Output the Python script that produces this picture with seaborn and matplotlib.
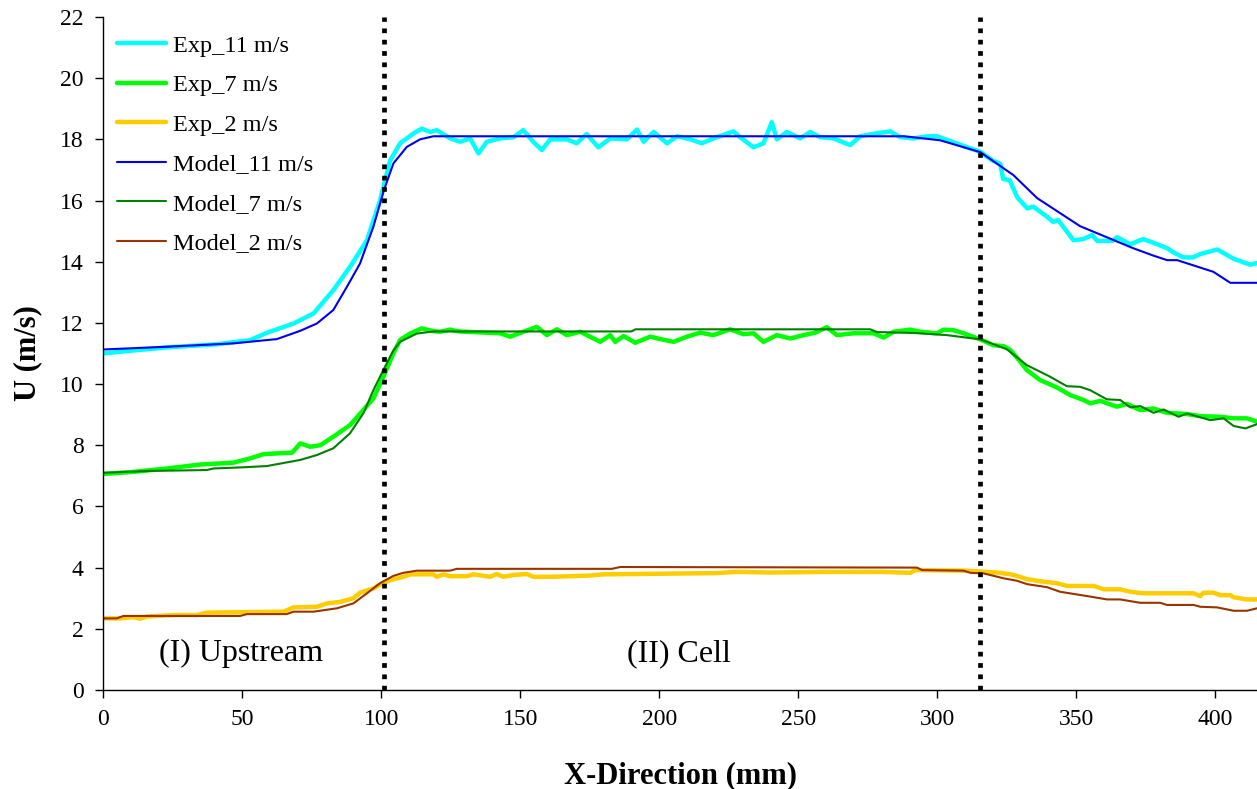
import numpy as np
import pandas as pd
import matplotlib
matplotlib.use("Agg")
import matplotlib.pyplot as plt
import seaborn as sns

# ---- data (x in mm, U in m/s) ----
exp11_x = [0, 11, 23, 41, 53, 59, 68.5, 75.7, 82.8, 88.8, 94.9, 99.6, 103.2, 106.8, 111.6, 114.6,
           117.6, 120, 124.8, 128.4, 132, 135, 138, 142.8, 147.6, 151.1, 154.7, 157.8, 160.8,
           166.8, 170.3, 173.9, 178.1, 182.4, 188.4, 192, 194.4, 198, 202.8, 206.4, 211.2,
           215.3, 219.5, 226.7, 229.1, 233.9, 237.5, 240.5, 242.3, 245.9, 250.7, 254.3, 257.9,
           262.7, 268.7, 272.3, 278.3, 283.1, 286.7, 291.4, 296.4, 300, 303.6, 309, 315.5,
           320, 322.7, 323.7, 326, 328.8, 332.4, 334.5, 339.5, 341.7, 343.5, 349, 352.5, 355.7,
           357.5, 363, 364.7, 369.4, 374, 377.7, 382.7, 385, 388.5, 392, 394.6, 400.7, 406.5,
           412.6, 415]
exp11_y = [11.0, 11.1, 11.2, 11.3, 11.44, 11.68, 11.98, 12.31, 13.07, 13.83, 14.7, 16.0, 17.3,
           17.87, 18.19, 18.35, 18.24, 18.3, 18.03, 17.92, 18.03, 17.54, 17.92, 18.03, 18.07,
           18.3, 17.92, 17.65, 18.0, 18.0, 17.87, 18.17, 17.74, 18.03, 18.0, 18.32, 17.92,
           18.24, 17.87, 18.1, 18.0, 17.87, 18.03, 18.26, 18.07, 17.74, 17.87, 18.56, 18.0,
           18.24, 18.03, 18.24, 18.07, 18.03, 17.81, 18.1, 18.2, 18.26, 18.07, 18.03, 18.1,
           18.1, 17.98, 17.8, 17.59, 17.3, 17.2, 16.7, 16.67, 16.1, 15.74, 15.8, 15.47, 15.3,
           15.36, 14.7, 14.74, 14.87, 14.68, 14.68, 14.8, 14.57, 14.74, 14.62, 14.44, 14.3,
           14.14, 14.14, 14.25, 14.4, 14.1, 13.9, 13.96]

model11_x = [0, 22.9, 46.9, 62.5, 70.9, 76.9, 82.8, 87.7, 92.4, 97.2, 100.8, 104.4, 109.2,
             114, 118.8, 288, 301, 315.5, 327.4, 335.9, 351.4, 370.5, 377.7, 382.7, 386.3,
             399.3, 405.4, 415]
model11_y = [11.13, 11.22, 11.33, 11.47, 11.74, 11.98, 12.42, 13.18, 13.94, 15.14, 16.28,
             17.21, 17.75, 18.0, 18.1, 18.1, 17.97, 17.58, 16.83, 16.08, 15.16, 14.44, 14.2,
             14.05, 14.05, 13.67, 13.31, 13.31]

exp7_x = [0, 10.8, 22.9, 34.9, 46.9, 52.9, 57.7, 68, 70.9, 74.5, 78.1, 82.8, 88.8, 93.6,
          97.2, 100.8, 104.4, 106.8, 110.4, 114.6, 118.8, 121.2, 124.8, 128, 142.8, 146.4,
          151.2, 156, 159.6, 163.2, 166.8, 171.6, 178.8, 182.4, 184.2, 187.2, 191.4, 196.8,
          200.4, 205.2, 210, 214.7, 219.5, 225.5, 230.3, 233.9, 237.5, 242.3, 247.1, 251.9,
          256.1, 260.3, 263.9, 269.9, 277.1, 280.7, 284.3, 290.3, 293.9, 299.9, 302.3, 305.9,
          309.5, 315.5, 320.2, 323.9, 326.3, 329.9, 332.2, 337, 343, 347.8, 352.6, 355, 358.6,
          364.6, 368.2, 373, 377.8, 382.6, 389.8, 394.6, 401.8, 406.6, 411.4, 415]
exp7_y = [7.06, 7.13, 7.24, 7.37, 7.43, 7.57, 7.71, 7.76, 8.06, 7.95, 8.0, 8.28, 8.66, 9.15,
          9.53, 10.24, 11.0, 11.44, 11.65, 11.82, 11.73, 11.71, 11.78, 11.72, 11.66, 11.55,
          11.71, 11.87, 11.6, 11.79, 11.6, 11.71, 11.38, 11.6, 11.38, 11.57, 11.35, 11.55,
          11.47, 11.38, 11.55, 11.68, 11.6, 11.79, 11.63, 11.66, 11.38, 11.6, 11.49, 11.6,
          11.68, 11.86, 11.6, 11.66, 11.66, 11.52, 11.71, 11.78, 11.71, 11.66, 11.78, 11.76,
          11.66, 11.46, 11.27, 11.24, 11.11, 10.73, 10.46, 10.13, 9.89, 9.64, 9.48, 9.37, 9.45,
          9.26, 9.35, 9.15, 9.2, 9.06, 9.02, 8.95, 8.93, 8.88, 8.88, 8.77]

model7_x = [0, 16.9, 37.3, 39.7, 50.5, 58.9, 70.9, 76.9, 82.8, 88.8, 93.6, 97.2, 100.8, 104.4,
            106.8, 112.8, 118.8, 190, 191.5, 275.9, 278.3, 291.5, 303.5, 315.5, 325, 332.2,
            340.6, 346.6, 351.4, 355, 361, 365.8, 369.4, 373, 377.8, 381.4, 386.8, 389.8,
            398.2, 403, 406.6, 410.8, 415]
model7_y = [7.1, 7.16, 7.19, 7.24, 7.28, 7.32, 7.52, 7.68, 7.9, 8.39, 9.04, 9.8, 10.46, 11.1,
            11.38, 11.65, 11.72, 11.72, 11.79, 11.79, 11.7, 11.67, 11.6, 11.46, 11.14, 10.62,
            10.24, 9.93, 9.91, 9.8, 9.5, 9.48, 9.24, 9.28, 9.06, 9.17, 8.93, 9.04, 8.82, 8.88,
            8.63, 8.55, 8.69]

exp2_x = [0, 6.1, 10.9, 13.3, 15.7, 25.3, 33.7, 37.3, 64.9, 68.5, 76.9, 80.5, 85.3, 90.1,
          92.4, 97.2, 100.8, 104.4, 108, 110.4, 118.8, 120, 122.4, 124.8, 130.8, 133.2, 139.2,
          141.6, 144, 147.6, 152.4, 154.8, 160.8, 175, 180, 200, 220, 228, 240, 260, 280,
          290.3, 292.1, 310.7, 322.7, 327.5, 332.3, 338.3, 343.1, 346.7, 356.3, 359.9, 365.8,
          369.4, 374.2, 392.2, 394.6, 395.8, 399.4, 401.8, 405.4, 406.6, 411.4, 415]
exp2_y = [2.34, 2.34, 2.38, 2.33, 2.4, 2.45, 2.45, 2.53, 2.56, 2.7, 2.72, 2.83, 2.88, 3.0,
          3.18, 3.32, 3.51, 3.62, 3.7, 3.78, 3.78, 3.7, 3.78, 3.72, 3.72, 3.78, 3.7, 3.79, 3.7,
          3.76, 3.79, 3.7, 3.7, 3.74, 3.78, 3.8, 3.82, 3.86, 3.84, 3.86, 3.86, 3.83, 3.92, 3.9,
          3.83, 3.76, 3.62, 3.54, 3.49, 3.4, 3.4, 3.29, 3.29, 3.21, 3.16, 3.16, 3.07, 3.18,
          3.18, 3.1, 3.1, 3.03, 2.96, 2.96]

model2_x = [0, 4.9, 7.3, 49.3, 51.7, 66, 68.5, 75.7, 84.1, 90, 94.9, 99.6, 104.4, 108, 112.8,
            124.8, 127.2, 183, 186, 292.7, 294.5, 309.5, 311.9, 316.7, 319, 323.9, 328.7,
            332.3, 339.5, 344.2, 353.9, 361.1, 365.8, 373, 380.2, 382.6, 392.2, 394.6, 400.6,
            406.6, 411.4, 415]
model2_y = [2.34, 2.34, 2.42, 2.42, 2.48, 2.48, 2.56, 2.56, 2.67, 2.83, 3.16, 3.49, 3.73,
            3.83, 3.9, 3.9, 3.96, 3.96, 4.02, 4.0, 3.92, 3.9, 3.83, 3.81, 3.76, 3.65, 3.57,
            3.46, 3.36, 3.21, 3.07, 2.96, 2.96, 2.85, 2.85, 2.78, 2.78, 2.72, 2.7, 2.59, 2.59,
            2.67]

region_bounds = [101, 315.5]
region_labels = ["(I) Upstream", "(II) Cell"]

sns.set_style("ticks")
plt.rcParams["font.family"] = ["Liberation Serif", "DejaVu Serif"]
plt.rcParams.update({"text.color": "black", "axes.labelcolor": "black",
                     "xtick.color": "black", "ytick.color": "black"})

fig = plt.figure(figsize=(12.57, 7.89), dpi=100)
ax = fig.add_axes([0.082, 0.1255, 0.918, 0.853])

series = [
    (exp11_x, exp11_y, "Exp_11 m/s", "#00FFFF", 3.2),
    (exp7_x, exp7_y, "Exp_7 m/s", "#00FF00", 3.2),
    (exp2_x, exp2_y, "Exp_2 m/s", "#FFCC00", 3.2),
    (model11_x, model11_y, "Model_11 m/s", "#0000F0", 1.5),
    (model7_x, model7_y, "Model_7 m/s", "#008000", 1.5),
    (model2_x, model2_y, "Model_2 m/s", "#993300", 1.5),
]
for xs, ys, name, col, lw in series:
    sns.lineplot(x=xs, y=ys, ax=ax, color=col, linewidth=lw, label=name,
                 estimator=None, sort=False)

# region boundaries
for xb in region_bounds:
    ax.axvline(xb, color="black", linewidth=3.4, linestyle=(0, (1, 1.4)), zorder=5)

ax.text(20, 1.2, region_labels[0], fontsize=23, va="center", ha="left")
ax.text(207, 1.2, region_labels[1], fontsize=23, va="center", ha="center")

ax.set_xlim(0, 415)
ax.set_ylim(0, 22)
ax.set_xticks(np.arange(0, 401, 50))
ax.set_yticks(np.arange(0, 23, 2))
ax.tick_params(axis="both", labelsize=17, direction="out", length=6, width=1, pad=8)
ax.set_xlabel("X-Direction (mm)", fontsize=22, fontweight="bold", labelpad=22)
ax.set_ylabel("U (m/s)", fontsize=22, fontweight="bold", labelpad=13)
sns.despine(ax=ax)
for s in ["left", "bottom"]:
    ax.spines[s].set_linewidth(1.0)
    ax.spines[s].set_color("black")

ax.legend(loc="upper left", bbox_to_anchor=(0.003, 0.99), frameon=False, fontsize=17.5,
          handlelength=2.0, handletextpad=0.3, labelspacing=0.72, borderaxespad=0.05)

fig.savefig("out.png", dpi=100)
